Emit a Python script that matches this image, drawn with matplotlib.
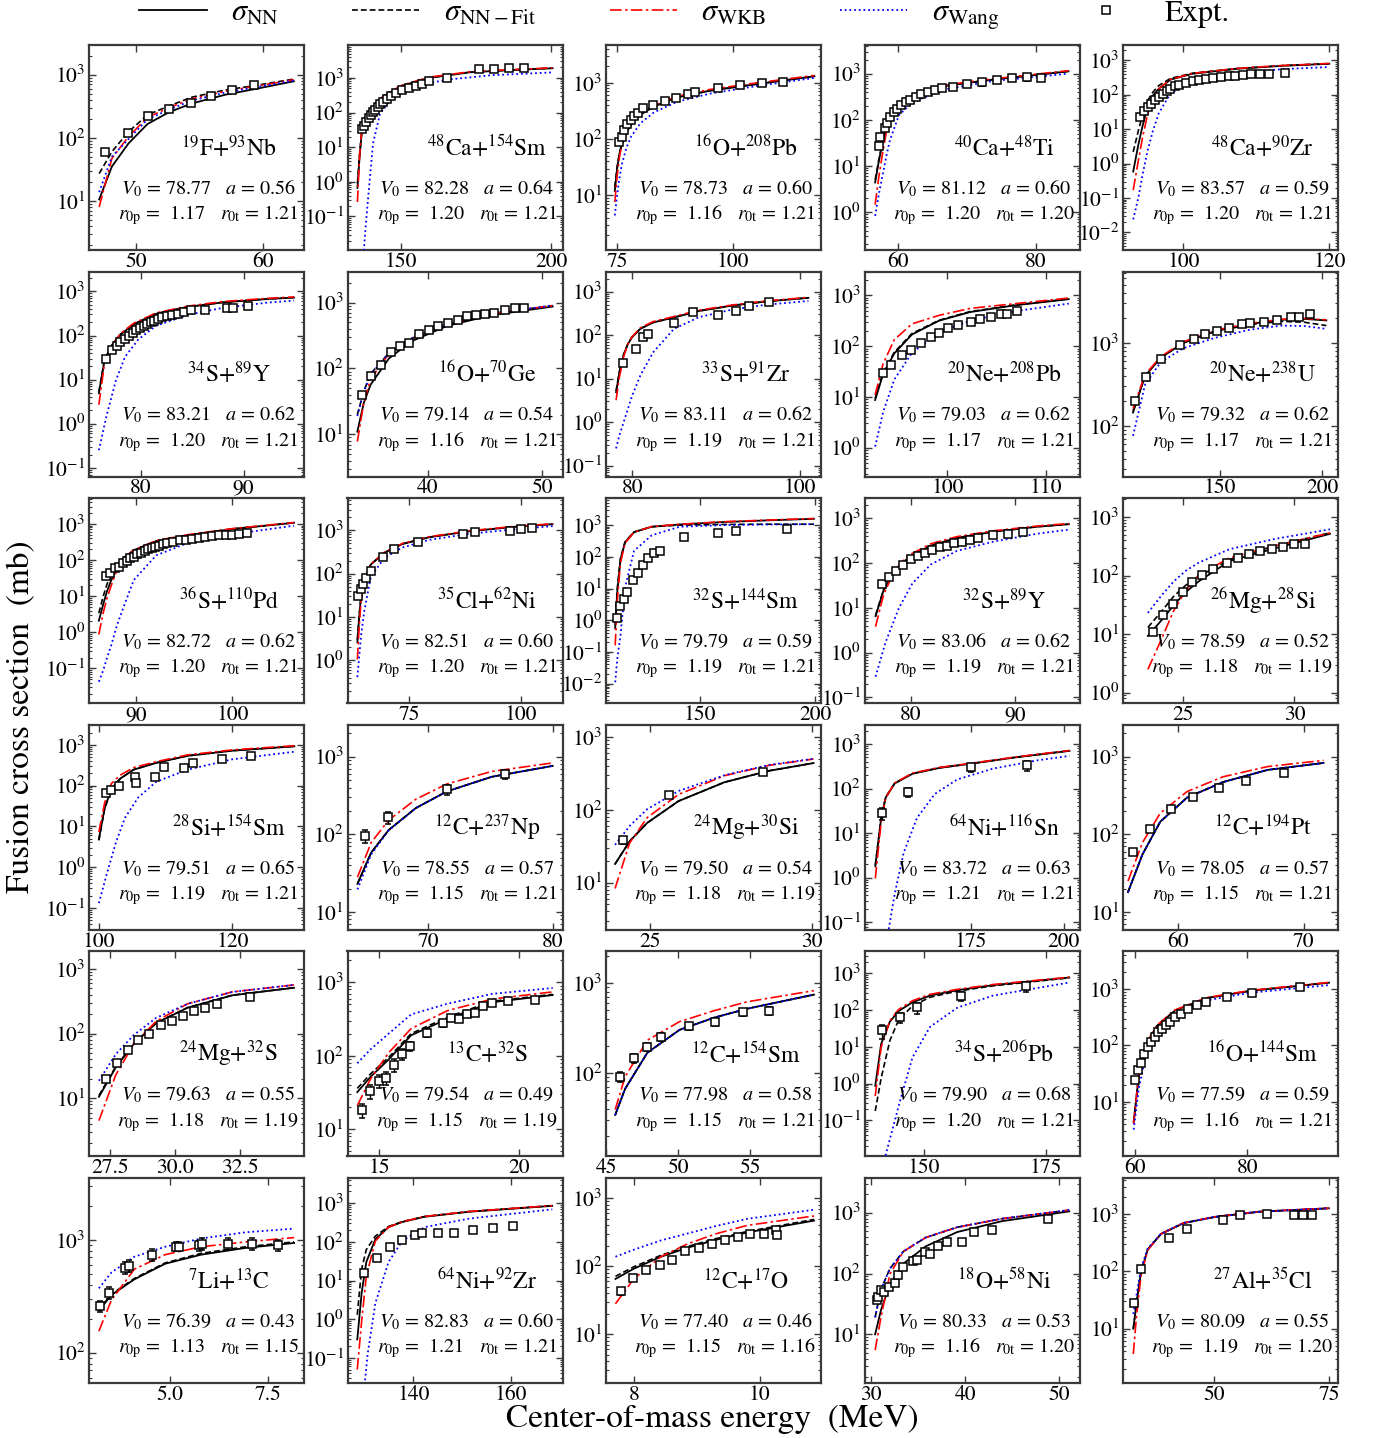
import matplotlib
matplotlib.use('Agg')
import matplotlib.pyplot as plt
from matplotlib.lines import Line2D
from matplotlib.ticker import LogLocator, NullFormatter, FixedLocator, FixedFormatter

plt.rcParams['font.family'] = ['STIXGeneral', 'DejaVu Serif']
plt.rcParams['mathtext.fontset'] = 'stix'

# ---------------- data (E in MeV, sigma in mb) ----------------
E01 = [47.1, 48.1, 49.4, 50.9, 52.6, 54.4, 57.0, 59.5, 62.4]
NN01 = [10.5, 35, 81, 165, 255, 350, 480, 600, 785]
FIT01 = [27, 60, 124, 230, 320, 440, 570, 680, 850]
WKB01 = [8, 47, 104, 210, 300, 415, 545, 660, 830]
WANG01 = [13.7, 50, 95, 195, 280, 390, 520, 635, 805]
XE01 = [47.55, 49.4, 50.9, 52.6, 54.3, 55.9, 57.55, 59.3]
XS01 = [60, 117, 219, 282, 359, 467, 574, 696]

E02 = [135.5, 136.2, 137.0, 138.0, 140.0, 144.4, 150.4, 159.4, 172.8, 187.7, 200.4]
NN02 = [0.66, 5, 30, 60, 115, 300, 590, 1000, 1450, 1700, 1900]
FIT02 = [0.9, 6, 32, 62, 118, 305, 595, 1010, 1460, 1710, 1910]
WKB02 = [0.26, 5, 40, 75, 130, 320, 620, 1050, 1500, 1750, 1950]
EW02 = [137.4, 138.3, 139.2, 140.7, 143.0, 147.4, 154.9, 165.3, 180.3, 200.4]
WANG02 = [0.0055, 0.06, 0.47, 13, 91, 300, 590, 890, 1200, 1440]
XE02 = [137.0, 137.7, 138.5, 139.2, 140.0, 140.7, 141.5, 142.2, 143.0, 144.1, 145.3, 146.7,
        148.2, 150.4, 152.6, 154.9, 157.1, 159.4, 165.3, 175.8, 181.0, 185.8, 191.0]
XS02 = [33, 42, 54, 68, 85, 102, 121, 147, 174, 206, 250, 300, 357, 433, 515, 590, 665, 790,
        1000, 1750, 1830, 1900, 1980]

E03 = [74.5, 75.0, 75.5, 76.0, 77.0, 78.0, 80.0, 83.0, 88.0, 95.0, 105.0, 117.6]
NN03 = [12, 30, 55, 80, 130, 180, 270, 380, 550, 720, 940, 1300]
FIT03 = [14, 32, 57, 82, 132, 182, 272, 383, 555, 725, 945, 1310]
WKB03 = [7.6, 22, 48, 78, 135, 190, 285, 400, 580, 760, 990, 1350]
WANG03 = [4.4, 10, 20, 35, 70, 110, 190, 300, 460, 640, 870, 1220]
XE03 = [75.4, 76.0, 76.5, 77.2, 77.9, 78.6, 79.4, 80.6, 82.7, 85.3, 87.7, 90.2, 91.9, 96.7,
        101.5, 106.2, 110.9]
XS03 = [88, 110, 145, 185, 220, 260, 290, 350, 410, 480, 540, 630, 690, 800, 900, 1000, 1050]

E04 = [56.65, 57.2, 57.8, 58.3, 58.8, 60.1, 61.5, 63.4, 67.3, 73.8, 84.8]
NN04 = [4.4, 13, 36, 65, 107, 223, 290, 365, 555, 740, 1120]
FIT04 = [5, 14, 38, 67, 109, 226, 293, 368, 560, 745, 1125]
WKB04 = [1.45, 6, 22, 55, 100, 232, 305, 385, 580, 770, 1160]
WANG04 = [0.83, 2.5, 7, 17, 36, 125, 200, 290, 470, 690, 1000]
XE04 = [57.19, 57.38, 58.03, 58.36, 58.81, 59.33, 59.79, 60.44, 61.09, 61.74, 62.59, 63.38,
        64.36, 65.33, 66.31, 67.94, 70.02, 72.24, 74.46, 76.54, 78.75, 80.84]
XS04 = [27, 42, 65, 85, 115, 148, 174, 205, 240, 270, 310, 354, 397, 448, 493, 525, 600, 650,
        730, 810, 835, 810]
ERR04 = [4, 6, 9, 12, 15, 20, 24, 28, 33, 38, 45, 50, 58, 65, 72, 80, 95, 100, 115, 125, 130, 125]

E05 = [93.1, 93.8, 94.4, 95.1, 95.8, 96.6, 98.2, 101.2, 107.4, 113.6, 120.0]
NN05 = [0.59, 3.5, 13, 45, 95, 150, 277, 410, 575, 700, 800]
FIT05 = [2.2, 9, 27, 69, 120, 186, 300, 425, 585, 710, 810]
WKB05 = [0.17, 1.2, 6, 29, 80, 150, 280, 420, 590, 715, 820]
WANG05 = [0.024, 0.1, 0.5, 2.5, 9, 29, 109, 265, 430, 560, 645]
XE05 = [94.05, 94.60, 95.09, 95.58, 96.07, 96.62, 97.12, 97.67, 98.17, 98.78, 99.39, 100.3,
        101.25, 102.17, 103.1, 104.0, 105.1, 106.2, 107.1, 108.1, 109.2, 110.5, 111.7, 113.9]
XS05 = [23, 33, 43, 56, 70, 87, 109, 130, 151, 177, 198, 220, 246, 277, 295, 316, 330, 345,
        362, 380, 395, 400, 414, 440]

E06 = [75.96, 76.5, 77.2, 78.04, 79.35, 81.5, 84.6, 88.0, 92.4, 94.9]
NN06 = [4.9, 27, 59, 105, 180, 310, 445, 565, 675, 725]
FIT06 = [5.3, 28, 60, 106, 182, 312, 447, 568, 678, 728]
WKB06 = [2.7, 23, 58, 110, 190, 325, 465, 590, 700, 750]
EW06 = [75.96, 76.7, 77.6, 78.5, 79.8, 81.5, 84.6, 88.0, 92.4, 94.9]
WANG06 = [0.25, 1.5, 9.4, 33, 82, 166, 295, 425, 560, 620]
XE06 = [76.65, 77.26, 77.70, 78.04, 78.48, 78.91, 79.26, 79.61, 79.96, 80.30, 80.65, 81.0,
        81.35, 81.74, 82.13, 82.57, 83.04, 83.61, 84.22, 84.91, 86.3, 88.39, 89.0, 90.43]
XS06 = [30, 47, 59, 70, 83, 100, 115, 131, 148, 166, 186, 200, 218, 240, 263, 276, 297, 312,
        340, 373, 386, 423, 432, 472]

E07 = [33.84, 34.4, 35.0, 36.6, 38.55, 41.7, 45.6, 50.9]
NN07 = [11, 30, 57, 142, 258, 444, 645, 870]
FIT07 = [20, 45, 83, 172, 285, 472, 682, 900]
WKB07 = [7.8, 30, 69, 168, 282, 470, 680, 900]
WANG07 = [19, 44, 81, 170, 283, 470, 680, 905]
XE07 = [34.23, 35.02, 35.88, 36.78, 37.57, 38.35, 39.25, 40.12, 40.9, 41.76, 42.67, 43.45,
        44.24, 45.02, 45.8, 46.78, 47.57, 48.43]
XS07 = [40, 78, 114, 175, 216, 243, 331, 383, 446, 491, 553, 624, 655, 680, 705, 770, 815, 835]

E08 = [78.1, 78.5, 79.0, 79.5, 80.0, 81.0, 82.5, 85.0, 88.0, 92.0, 96.0, 101.0]
NN08 = [4.9, 14, 35, 62, 90, 140, 195, 255, 360, 480, 595, 720]
FIT08 = [5.2, 15, 36, 63, 91, 141, 196, 256, 361, 481, 596, 722]
WKB08 = [3.2, 11, 32, 62, 92, 148, 205, 268, 375, 495, 610, 740]
WANG08 = [0.25, 0.5, 1.0, 2.0, 4.0, 12, 40, 140, 260, 390, 500, 610]
XE08 = [78.9, 80.5, 81.3, 81.9, 85.0, 87.3, 90.2, 92.4, 93.9, 96.3]
XS08 = [23, 49, 89, 106, 190, 340, 295, 360, 470, 590]

E09 = [92.65, 93.46, 94.6, 96.4, 99.15, 102.3, 106.9, 112.35]
NN09 = [8.7, 28, 72, 170, 318, 470, 640, 845]
FIT09 = [9.5, 30, 76, 178, 325, 480, 650, 855]
WKB09 = [11, 45, 134, 275, 405, 555, 690, 890]
WANG09 = [1.05, 5, 22, 74, 185, 318, 490, 690]
XE09 = [93.47, 94.25, 95.39, 96.35, 97.35, 98.34, 99.16, 100.07, 101.07, 102.44, 103.34,
        104.39, 105.43, 106.07, 107.1]
XS09 = [30, 42, 66, 85, 115, 151, 178, 224, 263, 295, 347, 372, 427, 437, 490]

E10 = [107.3, 113.2, 120.8, 131.8, 147.2, 164.7, 180.1, 191.1, 202.0]
NN10 = [145, 400, 660, 1000, 1380, 1700, 1900, 1950, 1870]
FIT10 = [150, 405, 665, 1000, 1370, 1670, 1820, 1780, 1620]
WKB10 = [162, 415, 680, 1030, 1420, 1730, 1930, 1980, 1900]
WANG10 = [76, 315, 585, 860, 1150, 1450, 1620, 1600, 1480]
XE10 = [108.3, 113.8, 120.8, 130.1, 137.4, 142.4, 148.4, 154.3, 160.9, 164.8, 171.4, 178.0,
        184.6, 188.5, 193.8]
XS10 = [200, 390, 650, 950, 1130, 1290, 1410, 1530, 1670, 1720, 1800, 1890, 2040, 2080, 2240]

E11 = [86.14, 86.6, 87.0, 87.44, 88.0, 88.6, 89.77, 92.1, 95.35, 100.0, 106.4]
NN11 = [2.1, 6, 14, 28, 60, 107, 186, 330, 480, 720, 1070]
FIT11 = [3.4, 10, 22, 39, 70, 110, 188, 335, 485, 725, 1075]
WKB11 = [0.87, 3.5, 9, 20, 52, 105, 190, 345, 500, 740, 1090]
WANG11 = [0.043, 0.09, 0.2, 0.45, 1.5, 4.2, 28, 135, 295, 515, 890]
XE11 = [86.89, 87.35, 87.82, 88.24, 88.70, 89.07, 89.40, 89.77, 90.14, 90.52, 90.89, 91.26,
        91.63, 92.0, 92.38, 92.84, 93.26, 93.86, 94.52, 95.17, 95.82, 96.52, 97.21, 97.91,
        98.61, 99.3, 100.0, 100.7, 101.5]
XS11 = [37, 44, 59, 64, 82, 96, 114, 125, 144, 158, 179, 196, 219, 234, 251, 274, 295, 316,
        347, 366, 392, 410, 437, 458, 479, 490, 500, 525, 550]

E12 = [63.5, 63.9, 64.3, 65.0, 66.5, 69.5, 73.5, 79.5, 88.5, 98.5, 107.0]
NN12 = [2.6, 10, 28, 71, 162, 302, 480, 690, 950, 1200, 1380]
FIT12 = [3.0, 11, 30, 73, 165, 305, 485, 695, 955, 1205, 1385]
WKB12 = [1.05, 6, 22, 68, 165, 310, 495, 710, 975, 1230, 1410]
WANG12 = [0.41, 1.2, 3.5, 13, 85, 230, 400, 600, 830, 1050, 1250]
XE12 = [63.7, 64.3, 64.8, 65.5, 66.5, 69.1, 71.7, 76.9, 87.0, 89.7, 97.5, 100.0, 102.5]
XS12 = [31, 43, 59, 80, 117, 245, 365, 525, 830, 890, 950, 1050, 1150]

E13 = [113.1, 114.0, 115.4, 117.4, 121.3, 129.0, 141.3, 160.0, 180.0, 199.5]
NN13 = [0.55, 8, 83, 290, 600, 890, 1050, 1250, 1420, 1580]
FIT13 = [0.7, 10, 90, 300, 610, 890, 1000, 1050, 1070, 1070]
WKB13 = [0.16, 4, 65, 270, 600, 900, 1070, 1280, 1450, 1620]
WANG13 = [0.011, 0.06, 0.33, 11, 155, 480, 890, 1000, 1050, 1070]
XE13 = [114.1, 115.4, 116.8, 118.3, 120.8, 122.8, 125.1, 127.4, 129.9, 132.5, 143.2, 157.8,
        165.5, 187.8]
XS13 = [1.2, 2.8, 4.7, 7.6, 19, 30, 56, 93, 135, 155, 420, 575, 650, 770]

E14 = [76.6, 77.38, 78.45, 79.74, 81.9, 84.4, 87.86, 92.15, 95.16]
NN14 = [6.5, 25, 65, 131, 245, 365, 500, 650, 740]
FIT14 = [6.8, 26, 66, 132, 247, 367, 502, 652, 742]
WKB14 = [3.8, 20, 70, 148, 270, 390, 525, 675, 765]
EW14 = [76.6, 77.56, 78.85, 80.13, 81.9, 84.4, 87.86, 92.15, 95.16]
WANG14 = [0.29, 1.7, 10, 35, 93, 187, 300, 455, 560]
XE14 = [77.21, 77.90, 78.59, 79.27, 79.96, 80.65, 81.33, 82.06, 82.79, 83.48, 84.17, 84.86,
        85.71, 86.48, 87.86, 89.36, 90.78]
XS14 = [35, 50, 68, 93, 121, 145, 167, 200, 225, 246, 278, 302, 330, 363, 418, 457, 500]

E15 = [23.4, 24.0, 24.56, 25.1, 25.68, 27.08, 29.1, 31.6]
NN15 = [9.3, 17, 31, 52, 79, 177, 290, 515]
FIT15 = [13, 24, 44, 68, 96, 187, 320, 535]
WKB15 = [2.5, 8, 25, 55, 102, 200, 320, 535]
WANG15 = [23, 45, 79, 120, 165, 282, 420, 615]
XE15 = [23.63, 24.07, 24.54, 24.98, 25.40, 25.85, 26.35, 26.96, 27.46, 27.97, 28.47, 28.98,
        29.48, 29.98, 30.49]
XS15 = [11, 21, 33, 52, 76, 103, 129, 162, 201, 229, 262, 289, 309, 344, 344]

E16 = [100.0, 100.87, 101.88, 103.2, 105.2, 108.6, 113.3, 120.0, 129.3]
NN16 = [4.9, 28, 83, 148, 245, 360, 535, 715, 915]
FIT16 = [4.5, 27, 82, 147, 245, 362, 538, 718, 918]
WKB16 = [7.2, 38, 112, 180, 275, 385, 565, 750, 950]
EW16 = [100.0, 101.2, 102.55, 103.9, 105.9, 108.6, 113.3, 120.0, 129.3]
WANG16 = [0.13, 0.69, 4.0, 16, 51, 124, 245, 440, 675]
XE16 = [101.0, 101.88, 103.08, 105.37, 105.57, 108.45, 109.73, 112.75, 114.09, 118.52, 122.82]
XS16 = [65, 78, 100, 165, 115, 158, 283, 267, 360, 455, 535]

E17 = [64.3, 65.4, 66.8, 69.0, 71.5, 75.1, 80.0]
NN17 = [23, 58, 113, 218, 357, 550, 760]
FIT17 = [23, 58, 113, 218, 357, 550, 760]
WKB17 = [28, 78, 152, 283, 445, 645, 830]
WANG17 = [19.5, 55, 112, 218, 357, 550, 760]
XE17 = [64.9, 66.75, 71.5, 76.2]
XS17 = [95, 165, 380, 600]
ERR17 = [18, 30, 55, 80]

E18 = [23.92, 24.37, 24.91, 25.88, 27.3, 28.68, 30.05]
NN18 = [18, 37, 66, 132, 240, 345, 440]
FIT18 = [18, 37, 66, 132, 240, 345, 440]
WKB18 = [8.3, 35, 78, 163, 295, 410, 500]
WANG18 = [33, 60, 102, 182, 300, 415, 505]
XE18 = [24.15, 25.6, 28.5]
XS18 = [38, 160, 330]
ERR18 = [4, 12, 25]

E19 = [149.4, 150.98, 152.2, 154.6, 159.4, 166.6, 175.0, 187.0, 201.5]
NN19 = [1.8, 22, 63, 130, 215, 290, 360, 500, 700]
FIT19 = [1.9, 23, 64, 132, 217, 292, 362, 503, 705]
WKB19 = [0.96, 18, 62, 134, 222, 298, 368, 510, 715]
EW19 = [153.0, 154.6, 157.0, 160.6, 165.4, 171.4, 181.0, 193.0, 201.5]
WANG19 = [0.07, 0.43, 3.6, 22, 76, 160, 280, 430, 540]
XE19 = [151.2, 158.2, 175.0, 190.0]
XS19 = [28, 83, 300, 330]
ERR19 = [8, 20, 60, 80]

E20 = [56.0, 57.15, 58.57, 60.71, 63.57, 67.14, 71.6]
NN20 = [18, 55, 145, 297, 470, 675, 830]
FIT20 = [18, 55, 145, 297, 470, 675, 830]
WKB20 = [25, 78, 187, 355, 550, 745, 895]
WANG20 = [18, 55, 145, 297, 470, 675, 830]
XE20 = [56.43, 57.75, 59.4, 61.15, 63.29, 65.43, 68.47]
XS20 = [59, 118, 213, 305, 395, 490, 620]

E21 = [27.08, 27.73, 28.42, 29.28, 30.48, 32.2, 34.57]
NN21 = [10.5, 30, 69, 145, 250, 390, 510]
FIT21 = [11, 31, 70, 146, 252, 392, 512]
WKB21 = [4.5, 23, 69, 155, 288, 440, 565]
WANG21 = [18.6, 48, 95, 175, 288, 440, 565]
XE21 = [27.34, 27.77, 28.19, 28.59, 29.02, 29.48, 29.9, 30.31, 30.74, 31.17, 31.6, 32.89]
XS21 = [20, 35, 56, 79, 99, 137, 156, 187, 224, 252, 286, 365]
ERR21 = [2, 3, 4, 6, 8, 10, 12, 14, 17, 19, 22, 30]

E22 = [14.23, 14.71, 15.35, 16.15, 17.44, 19.04, 21.2]
NN22 = [32, 52, 89, 190, 317, 535, 670]
FIT22 = [36, 57, 95, 200, 335, 550, 685]
WKB22 = [21, 49, 110, 234, 410, 590, 740]
WANG22 = [79, 123, 200, 365, 510, 695, 835]
XE22 = [14.39, 14.68, 15.0, 15.27, 15.55, 15.84, 16.12, 16.72, 17.28, 17.57, 17.84, 18.16,
        18.43, 18.72, 19.04, 19.6, 20.56]
XS22 = [18, 33, 45, 50, 75, 105, 135, 205, 275, 325, 320, 370, 380, 470, 520, 560, 580]
ERR22 = [4, 7, 9, 10, 14, 18, 20, 25, 28, 30, 30, 32, 32, 35, 38, 40, 40]

E23 = [45.64, 46.32, 47.87, 50.1, 52.5, 54.78, 59.44]
NN23 = [34, 66, 167, 300, 410, 515, 740]
FIT23 = [34, 66, 167, 300, 410, 515, 740]
WKB23 = [39, 90, 230, 370, 490, 615, 820]
WANG23 = [34, 66, 167, 300, 410, 515, 740]
XE23 = [46.0, 46.94, 47.87, 48.8, 50.76, 52.6, 54.5, 56.34]
XS23 = [90, 145, 195, 250, 330, 365, 470, 490]
ERR23 = [12, 16, 20, 25, 30, 35, 45, 50]

E24 = [140.1, 141.3, 143.1, 144.9, 147.7, 151.3, 156.9, 164.2, 179.8]
NN24 = [0.87, 12, 49, 95, 163, 250, 350, 480, 775]
FIT24 = [0.18, 1.4, 15, 55, 130, 225, 330, 460, 760]
WKB24 = [0.46, 9.8, 52, 105, 180, 270, 370, 500, 790]
EW24 = [142.2, 144.9, 147.7, 151.3, 156.9, 164.2, 179.8]
WANG24 = [0.011, 0.25, 5.1, 35, 117, 250, 565]
XE24 = [141.5, 145.1, 148.6, 157.6, 170.9]
XS24 = [28, 65, 120, 250, 450]
ERR24 = [12, 20, 40, 70, 140]

E25 = [59.7, 60.65, 61.85, 63.86, 67.05, 72.66, 80.65, 94.6]
NN25 = [4.3, 31, 100, 220, 415, 690, 935, 1300]
FIT25 = [4.4, 32, 101, 222, 417, 692, 937, 1305]
WKB25 = [4.1, 32, 105, 228, 425, 705, 950, 1320]
WANG25 = [3.2, 18, 65, 177, 360, 630, 865, 1180]
XE25 = [59.97, 60.43, 61.0, 61.56, 62.2, 62.84, 63.48, 64.12, 64.76, 65.4, 66.2, 67.16, 68.2,
        69.4, 71.0, 72.6, 76.44, 80.76, 89.4]
XS25 = [24, 37, 49, 70, 93, 116, 144, 171, 192, 228, 265, 318, 365, 435, 525, 580, 715, 865, 1100]

E26 = [3.2, 3.52, 4.1, 4.88, 5.79, 6.92, 8.15]
NN26 = [237, 325, 447, 615, 740, 850, 940]
FIT26 = [240, 330, 455, 625, 760, 870, 960]
WKB26 = [155, 293, 550, 740, 870, 960, 1050]
WANG26 = [372, 515, 710, 870, 1030, 1170, 1260]
XE26 = [3.23, 3.46, 3.86, 3.97, 4.54, 5.16, 5.22, 5.73, 5.81, 6.47, 7.09, 7.74]
XS26 = [257, 340, 565, 590, 740, 870, 870, 895, 930, 930, 930, 895]
ERR26 = [30, 40, 70, 70, 90, 80, 80, 90, 110, 110, 110, 100]

E27 = [128.5, 129.4, 130.35, 132.2, 134.9, 137.7, 142.3, 151.5, 168.4]
NN27 = [0.3, 4.8, 30, 117, 240, 325, 445, 600, 850]
FIT27 = [1.3, 20, 63, 140, 250, 333, 452, 608, 860]
WKB27 = [0.05, 0.9, 13, 105, 240, 330, 452, 610, 865]
EW27 = [130.0, 130.6, 132.2, 134.9, 137.7, 142.3, 151.5, 168.4]
WANG27 = [0.02, 0.12, 2.6, 30, 105, 240, 400, 690]
XE27 = [129.9, 132.5, 135.2, 137.7, 140.3, 141.8, 145.0, 148.2, 152.2, 156.2, 160.4]
XS27 = [16, 39, 72, 112, 149, 165, 165, 170, 205, 230, 250]

E28 = [7.71, 8.0, 8.43, 8.85, 9.3, 9.8, 10.86]
NN28 = [65, 92, 138, 187, 245, 315, 470]
FIT28 = [71, 98, 145, 195, 255, 325, 490]
WKB28 = [28, 65, 138, 213, 300, 400, 550]
WANG28 = [138, 175, 240, 303, 390, 500, 680]
XE28 = [7.79, 7.99, 8.2, 8.41, 8.61, 8.82, 9.03, 9.24, 9.44, 9.66, 9.85, 10.07, 10.26, 10.28]
XS28 = [43, 66, 87, 103, 123, 170, 185, 213, 240, 270, 303, 300, 340, 287]
ERR28 = [5, 6, 7, 8, 9, 12, 13, 15, 16, 18, 20, 20, 22, 20]

E29 = [30.42, 31.04, 31.99, 33.42, 35.8, 39.14, 43.9, 51.05]
NN29 = [10, 25, 66, 145, 280, 480, 725, 1050]
FIT29 = [19, 55, 120, 230, 390, 575, 795, 1100]
WKB29 = [5.5, 19, 98, 230, 390, 575, 795, 1100]
WANG29 = [19, 55, 120, 232, 392, 578, 798, 1105]
XE29 = [30.57, 30.72, 31.05, 31.38, 31.9, 32.48, 32.86, 33.33, 34.47, 34.86, 35.67, 36.29,
        37.14, 38.05, 39.63, 40.96, 42.86, 48.77]
XS29 = [37, 41, 54, 49, 60, 71, 95, 128, 160, 165, 230, 208, 283, 325, 333, 478, 525, 775]

E30 = [32.5, 33.18, 34.14, 35.62, 38.52, 43.4, 50.2, 59.93, 74.98]
NN30 = [10, 27, 95, 240, 450, 695, 890, 1100, 1260]
FIT30 = [10, 27, 95, 240, 450, 695, 890, 1100, 1260]
WKB30 = [3.6, 16, 80, 235, 450, 700, 900, 1110, 1270]
WANG30 = [18, 38, 110, 250, 455, 700, 895, 1105, 1265]
XE30 = [32.7, 34.14, 40.17, 44.07, 51.9, 55.78, 61.6, 67.45, 69.4, 71.3]
XS30 = [28, 110, 380, 550, 800, 955, 1020, 955, 980, 980]

# ---------------- panel table ----------------
def P(name, V0, a, rp, rt, xlim, ylog, xt, E, NN, FIT, WKB, EW, WANG, XE, XS, ERR=None):
    return dict(name=name, V0=V0, a=a, rp=rp, rt=rt, xlim=xlim, ylog=ylog, xt=xt, E=E, NN=NN,
                FIT=FIT, WKB=WKB, EW=EW, WANG=WANG, XE=XE, XS=XS, ERR=ERR)

panels = [
    P(r'$^{19}$F+$^{93}$Nb', '78.77', '0.56', '1.17', '1.21', (46.3, 63.2), (0.22, 3.47), [50, 60],
      E01, NN01, FIT01, WKB01, E01, WANG01, XE01, XS01),
    P(r'$^{48}$Ca+$^{154}$Sm', '82.28', '0.64', '1.20', '1.21', (132.2, 203.7), (-1.97, 3.95), [150, 200],
      E02, NN02, FIT02, WKB02, EW02, WANG02, XE02, XS02),
    P(r'$^{16}$O+$^{208}$Pb', '78.73', '0.60', '1.16', '1.21', (72.6, 119.0), (0.03, 3.67), [75, 100],
      E03, NN03, FIT03, WKB03, E03, WANG03, XE03, XS03),
    P(r'$^{40}$Ca+$^{48}$Ti', '81.12', '0.60', '1.20', '1.20', (55.1, 86.4), (-0.82, 3.62), [60, 80],
      E04, NN04, FIT04, WKB04, E04, WANG04, XE04, XS04, ERR04),
    P(r'$^{48}$Ca+$^{90}$Zr', '83.57', '0.59', '1.20', '1.21', (91.7, 121.2), (-2.51, 3.45), [100, 120],
      E05, NN05, FIT05, WKB05, E05, WANG05, XE05, XS05),
    P(r'$^{34}$S+$^{89}$Y', '83.21', '0.62', '1.20', '1.21', (75.0, 95.87), (-1.2, 3.45), [80, 90],
      E06, NN06, FIT06, WKB06, EW06, WANG06, XE06, XS06),
    P(r'$^{16}$O+$^{70}$Ge', '79.14', '0.54', '1.16', '1.21', (32.98, 51.76), (0.36, 3.47), [40, 50],
      E07, NN07, FIT07, WKB07, E07, WANG07, XE07, XS07),
    P(r'$^{33}$S+$^{91}$Zr', '83.11', '0.62', '1.19', '1.21', (76.9, 102.5), (-1.25, 3.46), [80, 100],
      E08, NN08, FIT08, WKB08, E08, WANG08, XE08, XS08),
    P(r'$^{20}$Ne+$^{208}$Pb', '79.03', '0.62', '1.17', '1.21', (91.57, 113.44), (-0.57, 3.47), [100, 110],
      E09, NN09, FIT09, WKB09, E09, WANG09, XE09, XS09),
    P(r'$^{20}$Ne+$^{238}$U', '79.32', '0.62', '1.17', '1.21', (102.4, 207.7), (1.39, 3.86), [150, 200],
      E10, NN10, FIT10, WKB10, E10, WANG10, XE10, XS10),
    P(r'$^{36}$S+$^{110}$Pd', '82.72', '0.62', '1.20', '1.21', (85.12, 107.44), (-1.96, 3.71), [90, 100],
      E11, NN11, FIT11, WKB11, E11, WANG11, XE11, XS11),
    P(r'$^{35}$Cl+$^{62}$Ni', '82.51', '0.60', '1.20', '1.21', (61.3, 109.2), (-0.99, 3.74), [75, 100],
      E12, NN12, FIT12, WKB12, E12, WANG12, XE12, XS12),
    P(r'$^{32}$S+$^{144}$Sm', '79.79', '0.59', '1.19', '1.21', (109.1, 202.6), (-2.62, 3.85), [150, 200],
      E13, NN13, FIT13, WKB13, E13, WANG13, XE13, XS13),
    P(r'$^{32}$S+$^{89}$Y', '83.06', '0.62', '1.19', '1.21', (75.54, 96.18), (-1.13, 3.45), [80, 90],
      E14, NN14, FIT14, WKB14, EW14, WANG14, XE14, XS14),
    P(r'$^{26}$Mg+$^{28}$Si', '78.59', '0.52', '1.18', '1.19', (22.28, 31.96), (-0.18, 3.32), [25, 30],
      E15, NN15, FIT15, WKB15, E15, WANG15, XE15, XS15),
    P(r'$^{28}$Si+$^{154}$Sm', '79.51', '0.65', '1.19', '1.21', (98.52, 130.74), (-1.54, 3.49), [100, 120],
      E16, NN16, FIT16, WKB16, EW16, WANG16, XE16, XS16),
    P(r'$^{12}$C+$^{237}$Np', '78.55', '0.57', '1.15', '1.21', (63.5, 80.79), (0.77, 3.41), [70, 80],
      E17, NN17, FIT17, WKB17, E17, WANG17, XE17, XS17, ERR17),
    P(r'$^{24}$Mg+$^{30}$Si', '79.50', '0.54', '1.18', '1.19', (23.64, 30.28), (0.35, 3.17), [25, 30],
      E18, NN18, FIT18, WKB18, E18, WANG18, XE18, XS18, ERR18),
    P(r'$^{64}$Ni+$^{116}$Sn', '83.72', '0.63', '1.21', '1.21', (146.5, 204.2), (-1.17, 3.43), [175, 200],
      E19, NN19, FIT19, WKB19, EW19, WANG19, XE19, XS19, ERR19),
    P(r'$^{12}$C+$^{194}$Pt', '78.05', '0.57', '1.15', '1.21', (55.6, 72.75), (0.77, 3.41), [60, 70],
      E20, NN20, FIT20, WKB20, E20, WANG20, XE20, XS20),
    P(r'$^{24}$Mg+$^{32}$S', '79.63', '0.55', '1.18', '1.19', (26.7, 34.95), (0.1, 3.27), [27.5, 30.0, 32.5],
      E21, NN21, FIT21, WKB21, E21, WANG21, XE21, XS21, ERR21),
    P(r'$^{13}$C+$^{32}$S', '79.54', '0.49', '1.15', '1.19', (13.88, 21.55), (0.63, 3.42), [15, 20],
      E22, NN22, FIT22, WKB22, E22, WANG22, XE22, XS22, ERR22),
    P(r'$^{12}$C+$^{154}$Sm', '77.98', '0.58', '1.15', '1.21', (45.0, 59.93), (1.07, 3.35), [45, 50, 55],
      E23, NN23, FIT23, WKB23, E23, WANG23, XE23, XS23, ERR23),
    P(r'$^{34}$S+$^{206}$Pb', '79.90', '0.68', '1.20', '1.21', (137.9, 181.9), (-1.98, 3.6), [150, 175],
      E24, NN24, FIT24, WKB24, EW24, WANG24, XE24, XS24, ERR24),
    P(r'$^{16}$O+$^{144}$Sm', '77.59', '0.59', '1.16', '1.21', (57.8, 96.2), (0.03, 3.67), [60, 80],
      E25, NN25, FIT25, WKB25, E25, WANG25, XE25, XS25),
    P(r'$^{7}$Li+$^{13}$C', '76.39', '0.43', '1.13', '1.15', (2.95, 8.4), (1.73, 3.55), [5.0, 7.5],
      E26, NN26, FIT26, WKB26, E26, WANG26, XE26, XS26, ERR26),
    P(r'$^{64}$Ni+$^{92}$Zr', '82.83', '0.60', '1.21', '1.21', (126.5, 170.5), (-1.65, 3.65), [140, 160],
      E27, NN27, FIT27, WKB27, EW27, WANG27, XE27, XS27),
    P(r'$^{12}$C+$^{17}$O', '77.40', '0.46', '1.15', '1.16', (7.56, 10.97), (0.28, 3.3), [8, 10],
      E28, NN28, FIT28, WKB28, E28, WANG28, XE28, XS28, ERR28),
    P(r'$^{18}$O+$^{58}$Ni', '80.33', '0.53', '1.16', '1.20', (29.29, 52.14), (0.2, 3.57), [30, 40, 50],
      E29, NN29, FIT29, WKB29, E29, WANG29, XE29, XS29),
    P(r'$^{27}$Al+$^{35}$Cl', '80.09', '0.55', '1.19', '1.20', (30.26, 76.96), (0.05, 3.63), [50, 75],
      E30, NN30, FIT30, WKB30, E30, WANG30, XE30, XS30),
]

# ---------------- figure ----------------
W, H = 1377, 1438
fig = plt.figure(figsize=(W / 100, H / 100), dpi=100)

spine_col = '#3a3a3a'
MS, MEW = 5.5, 1.1
for i, p in enumerate(panels):
    r, c = divmod(i, 5)
    left = 89 + c * 258.5
    top = 45 + r * 226.6
    ax = fig.add_axes([left / W, 1 - (top + 205) / H, 215 / W, 205 / H])
    ax.plot(p['E'], p['NN'], '-', color='black', lw=1.3, zorder=3)
    ax.plot(p['E'], p['FIT'], '--', color='black', lw=1.2, dashes=(3.5, 1.8), zorder=3)
    ax.plot(p['E'], p['WKB'], '-.', color='red', lw=1.2, dashes=(7, 2, 1.5, 2), zorder=3)
    ax.plot(p['EW'], p['WANG'], ':', color='blue', lw=1.3, dashes=(1, 1.6), zorder=3)
    if p['ERR'] is not None:
        ax.errorbar(p['XE'], p['XS'], yerr=p['ERR'], fmt='s', mfc='white', mec='black', ms=MS,
                    mew=MEW, ecolor='black', elinewidth=1.0, capsize=2.5, zorder=5)
    else:
        ax.plot(p['XE'], p['XS'], 's', mfc='white', mec='black', ms=MS, mew=MEW, zorder=5)
    ax.set_yscale('log')
    ax.set_xlim(*p['xlim'])
    ax.set_ylim(10 ** p['ylog'][0], 10 ** p['ylog'][1])
    ax.yaxis.set_major_locator(LogLocator(base=10, numticks=30))
    ax.yaxis.set_minor_locator(LogLocator(base=10, subs=range(2, 10), numticks=30))
    ax.yaxis.set_minor_formatter(NullFormatter())
    xt = p['xt']
    if any(float(t) != int(t) for t in xt):
        labs = ['%.1f' % t for t in xt]
    else:
        labs = ['%d' % t for t in xt]
    ax.xaxis.set_major_locator(FixedLocator(xt))
    ax.xaxis.set_major_formatter(FixedFormatter(labs))
    ax.tick_params(which='both', direction='in', top=True, right=True, colors=spine_col,
                   labelcolor='black', labelsize=15.5)
    ax.tick_params(axis='x', which='both', pad=1.5)
    ax.tick_params(axis='y', which='both', pad=2.5)
    ax.tick_params(which='major', length=5, width=1.0)
    ax.tick_params(which='minor', length=2.5, width=0.8)
    for s in ax.spines.values():
        s.set_linewidth(1.6)
        s.set_color(spine_col)
    ax.text(0.65, 0.5, p['name'], transform=ax.transAxes, ha='center', va='center', fontsize=17)
    ax.text(0.555, 0.30, r'$V_0$ = %s   $a$ = %s' % (p['V0'], p['a']), transform=ax.transAxes,
            ha='center', va='center', fontsize=14.5)
    ax.text(0.555, 0.17, r'$r_{\rm 0p}$ =  %s   $r_{\rm 0t}$ = %s' % (p['rp'], p['rt']),
            transform=ax.transAxes, ha='center', va='center', fontsize=14.5)

handles = [
    Line2D([], [], color='black', lw=1.3, ls='-'),
    Line2D([], [], color='black', lw=1.2, ls='--', dashes=(3.5, 1.8)),
    Line2D([], [], color='red', lw=1.2, ls='-.', dashes=(7, 2, 1.5, 2)),
    Line2D([], [], color='blue', lw=1.3, ls=':', dashes=(1, 1.6)),
    Line2D([], [], ls='none', marker='s', mfc='white', mec='black', ms=MS, mew=MEW),
]
labels = [r'$\sigma_{\rm NN}$', r'$\sigma_{\rm NN-Fit}$', r'$\sigma_{\rm WKB}$',
          r'$\sigma_{\rm Wang}$', 'Expt.']
fig.legend(handles, labels, loc='center', bbox_to_anchor=(0.497, 0.989), ncol=5, frameon=False,
           fontsize=22, handlelength=2.2, handletextpad=0.8, columnspacing=2.4)

fig.text(22 / W, 1 - 717 / H, 'Fusion cross section  (mb)', rotation=90, ha='center', va='center',
         fontsize=24)
fig.text(712 / W, 1 - 1419 / H, 'Center-of-mass energy  (MeV)', ha='center', va='center',
         fontsize=24)

fig.savefig('out.png', dpi=100)
